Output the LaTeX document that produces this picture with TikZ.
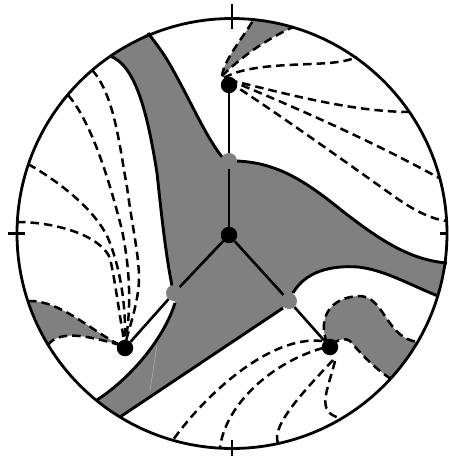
\documentclass[tikz,border=0pt]{standalone}
\definecolor{regiongray}{RGB}{128,128,128}
\tikzset{
  bound/.style={line width=2.8pt,black},
  solidb/.style={line width=2.9pt,black},
  dashb/.style={line width=2.5pt,black,dash pattern=on 8.5pt off 5pt},
  blackdot/.style={circle,fill=black,minimum size=16.5pt,inner sep=0pt,draw=none},
  graydot/.style={circle,fill=regiongray,minimum size=16pt,inner sep=0pt,draw=none},
  edgeb/.style={line width=2.6pt,black}
}
\begin{document}
\begin{tikzpicture}[x=1pt,y=-1pt]
\useasboundingbox (0,0) rectangle (449,458);
% large grey region
\fill[regiongray] (110,56) .. controls (135,65) and (147,110) .. (157,173)
  .. controls (161,210) and (165,255) .. (174,293)
  -- (175,303) .. controls (165,335) and (135,375) .. (97,400)
  -- (120,417) -- (283,308) -- (293,293)
  .. controls (305,272) and (330,265) .. (358,267)
  .. controls (385,270) and (410,285) .. (438,296)
  -- (447,263)
  .. controls (410,260) and (380,240) .. (345,213)
  .. controls (310,185) and (280,162) .. (235,161)
  -- (222,157)
  .. controls (205,135) and (190,100) .. (173,70)
  .. controls (165,55) and (155,42) .. (148,33)
  -- cycle;
% small grey regions
\fill[regiongray] (222,76) .. controls (224,60) and (240,42) .. (254,19)
  -- (293,27) .. controls (265,40) and (240,58) .. (222,76) -- cycle;
\fill[regiongray] (28,301) .. controls (60,300) and (90,330) .. (120,345)
  .. controls (95,338) and (60,328) .. (48,345) -- cycle;
\fill[regiongray] (327,343) .. controls (318,320) and (328,298) .. (358,296)
  .. controls (385,295) and (385,338) .. (418,342)
  -- (391,379) .. controls (370,365) and (358,350) .. (350,341)
  .. controls (345,337) and (338,340) .. (330,345) -- cycle;
% faint seam
\draw[line width=0.5pt,black!30] (157,345) -- (150,391);
% solid boundaries
\draw[solidb] (110,56) .. controls (135,65) and (147,110) .. (157,173)
  .. controls (161,210) and (165,250) .. (172,286);
\draw[solidb] (175,303) .. controls (165,335) and (135,375) .. (97,400);
\draw[solidb] (120,417) -- (283,308);
\draw[solidb] (293,293) .. controls (305,272) and (330,265) .. (358,267)
  .. controls (385,270) and (410,285) .. (438,296);
\draw[solidb] (447,263) .. controls (410,260) and (380,240) .. (345,213)
  .. controls (310,185) and (280,162) .. (235,161);
\draw[solidb] (222,157) .. controls (205,135) and (190,100) .. (173,70)
  .. controls (165,55) and (155,42) .. (148,33);
% dashed arcs: top
\draw[dashb] (222,76) .. controls (224,60) and (240,42) .. (254,19);
\draw[dashb] (222,76) .. controls (240,58) and (265,40) .. (293,27);
\draw[dashb] (224,78) .. controls (250,62) and (310,66) .. (338,62) .. controls (346,61) and (352,59) .. (357,57);
\draw[dashb] (229,80) .. controls (280,92) and (350,112) .. (411,112);
\draw[dashb] (229,80) .. controls (290,105) and (370,140) .. (439,178);
\draw[dashb] (229,82) .. controls (280,115) and (340,158) .. (395,197) .. controls (412,209) and (430,219) .. (447,221);
% dashed arcs: left
\draw[dashb] (92,70) .. controls (115,95) and (120,150) .. (127,187)
  .. controls (132,225) and (139,255) .. (139,278) .. controls (139,300) and (130,325) .. (125,345);
\draw[dashb] (68,95) .. controls (90,120) and (108,175) .. (122,230)
  .. controls (128,260) and (133,300) .. (125,345);
\draw[dashb] (28,164) .. controls (65,185) and (100,215) .. (110,243)
  .. controls (122,275) and (126,310) .. (125,345);
\draw[dashb] (17,222) .. controls (55,222) and (100,235) .. (110,258)
  .. controls (116,285) and (120,320) .. (125,345);
\draw[dashb] (28,301) .. controls (60,300) and (90,330) .. (120,345);
\draw[dashb] (48,345) .. controls (60,328) and (95,338) .. (120,345);
% dashed arcs: lower right
\draw[dashb] (327,343) .. controls (318,320) and (328,298) .. (358,296)
  .. controls (385,295) and (385,338) .. (418,342);
\draw[dashb] (391,379) .. controls (370,365) and (358,350) .. (350,341)
  .. controls (345,337) and (338,340) .. (330,345);
\draw[dashb] (322,341) .. controls (270,335) and (205,395) .. (173,440);
\draw[dashb] (323,348) .. controls (272,362) and (225,405) .. (220,448);
\draw[dashb] (333,360) .. controls (310,385) and (270,425) .. (278,443);
\draw[dashb] (335,361) .. controls (328,390) and (315,412) .. (340,418);
% outer circle and ticks
\coordinate (c) at (232,233.5);
\draw[bound] (c) circle[radius=215];
\draw[bound] (232,4) -- (232,29);
\draw[bound] (232,440) -- (232,456);
\draw[bound] (8,233.5) -- (25,233.5);
\draw[bound] (440,233.5) -- (447,233.5);
% vertices
\node[blackdot] (t) at (229,85) {};
\node[graydot] (g1) at (229,161) {};
\node[blackdot] (m) at (229,235) {};
\node[graydot] (g2) at (174,293) {};
\node[graydot] (g3) at (289,301) {};
\node[blackdot] (l) at (125,348) {};
\node[blackdot] (r) at (330,347) {};
\draw[edgeb] (t) -- (g1);
\draw[edgeb] (g1) -- (m);
\draw[edgeb] (m) -- (g2);
\draw[edgeb] (m) -- (g3);
\draw[edgeb] (g2) -- (l);
\draw[edgeb] (g3) -- (r);
\end{tikzpicture}
\end{document}
